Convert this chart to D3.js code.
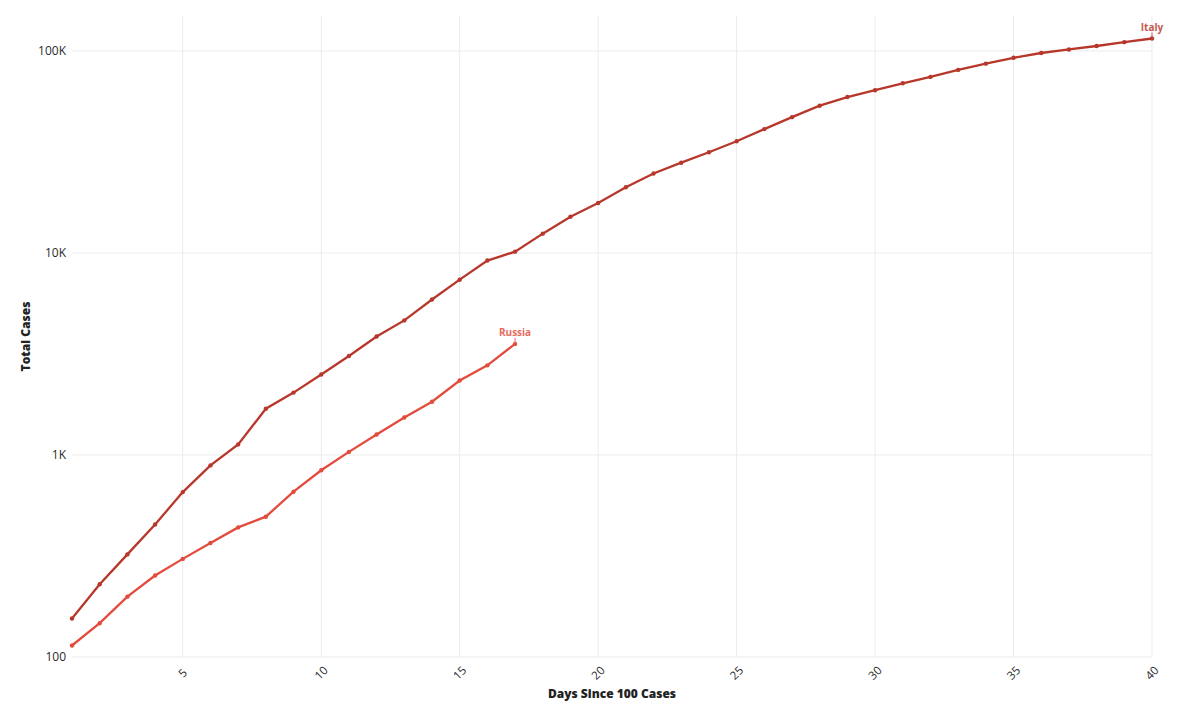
<!DOCTYPE html>
<html>
<head>
<meta charset="utf-8">
<script src="https://cdn.jsdelivr.net/npm/d3@7"></script>
<style>
  body { margin: 0; background: #fff; }
  svg { font-family: "Open Sans", "DejaVu Sans", sans-serif; }
</style>
</head>
<body>
<script>
// data: total cases per day since the 100th case
var italyCases = [155, 229, 322, 453, 655, 888, 1128, 1694, 2036, 2502, 3089, 3858, 4636, 5883,
  7375, 9172, 10149, 12462, 15113, 17660, 21157, 24747, 27980, 31506, 35713, 41035, 47021,
  53578, 59138, 63927, 69176, 74386, 80589, 86498, 92472, 97689, 101739, 105792, 110574, 115242]
var russiaCases = [114, 147, 199, 253, 306, 367, 438, 495, 658, 840, 1036, 1264, 1534, 1836,
  2337, 2777, 3548]
var countryNames = ["Italy", "Russia"]
var countryColours = ["#b8372b", "#e34b3d"]
var labelColours = ["#c4584d", "#e66c5f"]
var xTicks = [5, 10, 15, 20, 25, 30, 35, 40]
var yTicks = [100, 1000, 10000, 100000]
var yTickLabels = ["100", "1K", "10K", "100K"]

var width = 1193
var height = 719
var margin = { top: 16, right: 41, bottom: 62, left: 72 }

var series = [italyCases, russiaCases].map(function (vals, i) {
  return {
    name: countryNames[i],
    colour: countryColours[i],
    labelColour: labelColours[i],
    points: vals.map(function (v, j) { return { day: j + 1, cases: v } })
  }
})

var svg = d3.select("body").append("svg")
  .attr("width", width)
  .attr("height", height)

var x = d3.scaleLinear()
  .domain([1, 40])
  .range([margin.left, width - margin.right])

var y = d3.scaleLog()
  .domain([100, Math.pow(10, 5.173)])
  .range([height - margin.bottom, margin.top])

// grid
svg.append("g")
  .selectAll("line")
  .data(xTicks)
  .enter().append("line")
  .attr("x1", d => x(d)).attr("x2", d => x(d))
  .attr("y1", margin.top).attr("y2", height - margin.bottom)
  .attr("stroke", "#ebebeb")

svg.append("g")
  .selectAll("line")
  .data(yTicks)
  .enter().append("line")
  .attr("x1", margin.left).attr("x2", width - margin.right)
  .attr("y1", d => y(d)).attr("y2", d => y(d))
  .attr("stroke", "#ebebeb")

// y tick labels
svg.append("g")
  .selectAll("text")
  .data(yTicks)
  .enter().append("text")
  .attr("x", margin.left - 6)
  .attr("y", d => y(d))
  .attr("dy", "0.35em")
  .attr("text-anchor", "end")
  .attr("font-size", 12)
  .attr("fill", "#2a2a2a")
  .text((d, i) => yTickLabels[i])

// x tick labels, rotated
svg.append("g")
  .selectAll("text")
  .data(xTicks)
  .enter().append("text")
  .attr("transform", d => "translate(" + x(d) + "," + (height - margin.bottom + 16) + ") rotate(-45)")
  .attr("dy", "0.35em")
  .attr("text-anchor", "middle")
  .attr("font-size", 11.5)
  .attr("fill", "#2a2a2a")
  .text(d => d)

// axis titles
svg.append("text")
  .attr("x", (margin.left + width - margin.right) / 2)
  .attr("y", 698)
  .attr("text-anchor", "middle")
  .attr("font-size", 12)
  .attr("font-weight", 800)
  .attr("fill", "#222")
  .text("Days Since 100 Cases")

svg.append("text")
  .attr("transform", "translate(30," + ((margin.top + height - margin.bottom) / 2) + ") rotate(-90)")
  .attr("text-anchor", "middle")
  .attr("font-size", 12)
  .attr("font-weight", 800)
  .attr("fill", "#222")
  .text("Total Cases")

var line = d3.line()
  .x(d => x(d.day))
  .y(d => y(d.cases))

var groups = svg.selectAll(".country")
  .data(series)
  .enter().append("g")
  .attr("class", "country")

groups.append("path")
  .attr("d", d => line(d.points))
  .attr("fill", "none")
  .attr("stroke", d => d.colour)
  .attr("stroke-width", 2.3)

groups.selectAll("circle")
  .data(d => d.points.map(p => ({ p: p, colour: d.colour })))
  .enter().append("circle")
  .attr("cx", d => x(d.p.day))
  .attr("cy", d => y(d.p.cases))
  .attr("r", 2.2)
  .attr("fill", d => d.colour)

// end labels with small connector
groups.each(function (d) {
  var last = d.points[d.points.length - 1]
  var g = d3.select(this)
  g.append("line")
    .attr("x1", x(last.day)).attr("x2", x(last.day))
    .attr("y1", y(last.cases)).attr("y2", y(last.cases) - 6)
    .attr("stroke", d.labelColour)
    .attr("stroke-width", 1)
  g.append("text")
    .attr("x", x(last.day))
    .attr("y", y(last.cases) - 8)
    .attr("text-anchor", "middle")
    .attr("font-size", 10)
    .attr("font-weight", "bold")
    .attr("fill", d.labelColour)
    .text(d.name)
})
</script>
</body>
</html>
